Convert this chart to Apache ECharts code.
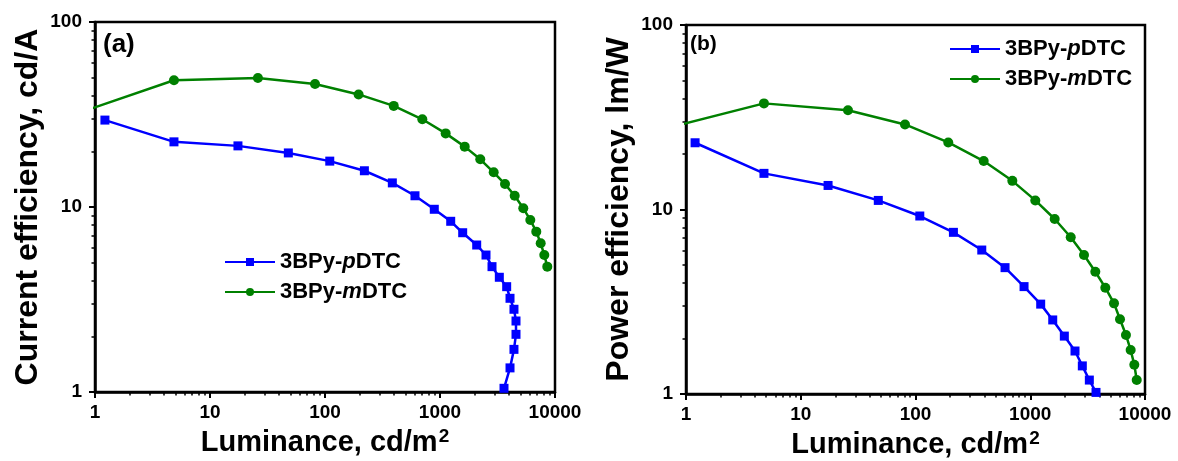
<!DOCTYPE html>
<html>
<head>
<meta charset="utf-8">
<script src="https://cdn.jsdelivr.net/npm/echarts@6/dist/echarts.min.js"></script>
<style>
  html, body { margin: 0; padding: 0; background: #fff; }
  #chart { width: 1178px; height: 461px; }
</style>
</head>
<body>
<div id="chart"></div>
<script>
// ---- data ----
const seriesNames = ['3BPy-pDTC', '3BPy-mDTC'];

// (a) current efficiency vs luminance
const ceLumP = [1.22, 4.86, 17.5, 48, 110, 220, 385, 606, 892, 1239, 1575, 2085, 2512, 2833, 3280, 3800, 4063, 4397, 4580, 4580, 4397, 4063, 3602];
const ceP    = [29.5, 22.5, 21.4, 19.6, 17.7, 15.7, 13.5, 11.5, 9.72, 8.37, 7.26, 6.23, 5.5, 4.76, 4.17, 3.71, 3.21, 2.80, 2.42, 2.05, 1.70, 1.35, 1.047];
const ceLumM = [0.8, 4.86, 26.1, 81.9, 196, 396, 702, 1120, 1640, 2240, 2930, 3675, 4463, 5300, 6100, 6875, 7510, 8070, 8570];
const ceM    = [33.0, 48.4, 49.8, 46.2, 40.6, 35.2, 29.8, 25.0, 21.2, 18.1, 15.4, 13.3, 11.5, 9.84, 8.51, 7.36, 6.37, 5.50, 4.76];

// (b) power efficiency vs luminance
const peLumP = [1.2, 4.78, 17.3, 47.4, 109, 214, 378, 603, 883, 1233, 1570, 1982, 2455, 2843, 3273, 3742];
const peP    = [23.0, 15.7, 13.5, 11.2, 9.22, 7.52, 6.03, 4.84, 3.82, 3.07, 2.52, 2.06, 1.71, 1.42, 1.19, 1.02];
const peLumM = [0.8, 4.78, 25.8, 81, 193, 393, 698, 1107, 1633, 2253, 2940, 3690, 4510, 5370, 6056, 6825, 7500, 8070, 8470];
const peM    = [28.3, 37.6, 34.5, 28.9, 23.1, 18.3, 14.3, 11.2, 8.88, 7.07, 5.67, 4.60, 3.77, 3.10, 2.54, 2.09, 1.73, 1.44, 1.19];

const xMajor = [1, 10, 100, 1000, 10000];
const yMajor = [1, 10, 100];
const xMinor = [2,3,4,5,6,7,8,9,20,30,40,50,60,70,80,90,200,300,400,500,600,700,800,900,2000,3000,4000,5000,6000,7000,8000,9000];
const yMinor = [2,3,4,5,6,7,8,9,20,30,40,50,60,70,80,90];

// ---- styling ----
const FONT = "Arial, 'Liberation Sans', sans-serif";
const INK = '#000';
const BLUE = '#0000ff';
const GREEN = '#008000';

const zip = (xs, ys) => xs.map((x, i) => [x, ys[i]]);

function majorAxis(gridIndex, min, max, ticks, margin, extra) {
  return Object.assign({
    type: 'log', logBase: 10, gridIndex, min, max,
    axisLine: { show: true, onZero: false, lineStyle: { color: INK, width: 2.5 } },
    axisTick: { show: true, inside: false, length: 6, customValues: ticks, lineStyle: { color: INK, width: 2 } },
    axisLabel: {
      customValues: ticks, color: INK, fontFamily: FONT, fontWeight: 'bold', fontSize: 19,
      margin, formatter: v => String(Math.round(v))
    },
    splitLine: { show: false },
    minorTick: { show: false },
    nameLocation: 'middle',
    nameTextStyle: { color: INK, fontFamily: FONT, fontWeight: 'bold', fontSize: 32 }
  }, extra);
}

function minorAxis(gridIndex, min, max, ticks, position) {
  return {
    type: 'log', logBase: 10, gridIndex, min, max, position,
    axisLine: { show: false },
    axisTick: { show: true, inside: false, length: 3.5, customValues: ticks, lineStyle: { color: INK, width: 1.5 } },
    axisLabel: { show: false },
    splitLine: { show: false }
  };
}

const xName = {
  name: '{n|Luminance, cd/m}{s|2}',
  nameGap: 31,
  nameTextStyle: {
    rich: {
      n: { color: INK, fontFamily: FONT, fontWeight: 'bold', fontSize: 29 },
      s: { color: INK, fontFamily: FONT, fontWeight: 'bold', fontSize: 19, padding: [0, 0, 14, 1] }
    }
  }
};

const legendText = {
  color: INK, fontFamily: FONT, fontWeight: 'bold', fontSize: 22,
  rich: { i: { color: INK, fontFamily: FONT, fontWeight: 'bold', fontStyle: 'italic', fontSize: 22 } }
};
const legendFormatter = name => name.replace(/-(p|m)DTC/, '-{i|$1}DTC');

function lineSeries(name, color, symbol, size, xAxisIndex, yAxisIndex, data) {
  return {
    name, type: 'line', xAxisIndex, yAxisIndex, data,
    clip: true, symbol, symbolSize: size, showSymbol: true,
    lineStyle: { color, width: 2.5 },
    itemStyle: { color },
    animation: false
  };
}

const gridBase = { show: true, borderColor: INK, borderWidth: 2.5, backgroundColor: 'transparent', containLabel: false, outerBoundsMode: 'none' };

const option = {
  backgroundColor: '#fff',
  animation: false,
  title: [
    { text: '(a)', left: 103, top: 32, padding: 0, textStyle: { color: INK, fontFamily: FONT, fontWeight: 'bold', fontSize: 26 } },
    { text: '(b)', left: 690, top: 34, padding: 0, textStyle: { color: INK, fontFamily: FONT, fontWeight: 'bold', fontSize: 21 } }
  ],
  grid: [
    Object.assign({ left: 95, top: 22, width: 460, height: 370 }, gridBase),
    Object.assign({ left: 686, top: 25, width: 459, height: 369 }, gridBase)
  ],
  legend: [
    {
      data: seriesNames, orient: 'vertical', left: 224, top: 251, padding: 0,
      itemWidth: 50, itemHeight: 10, itemGap: 8,
      textStyle: legendText, formatter: legendFormatter, selectedMode: false
    },
    {
      data: seriesNames, orient: 'vertical', left: 949, top: 38, padding: 0,
      itemWidth: 50, itemHeight: 10, itemGap: 8,
      textStyle: legendText, formatter: legendFormatter, selectedMode: false
    }
  ],
  xAxis: [
    majorAxis(0, 1, 10000, xMajor, 11, Object.assign({ position: 'bottom' }, xName)),
    minorAxis(0, 1, 10000, xMinor, 'bottom'),
    majorAxis(1, 1, 10000, xMajor, 11, Object.assign({ position: 'bottom' }, xName)),
    minorAxis(1, 1, 10000, xMinor, 'bottom')
  ],
  yAxis: [
    majorAxis(0, 1, 100, yMajor, 13, { position: 'left', name: 'Current efficiency, cd/A', nameGap: 51 }),
    minorAxis(0, 1, 100, yMinor, 'left'),
    majorAxis(1, 1, 100, yMajor, 13, { position: 'left', name: 'Power efficiency, lm/W', nameGap: 51 }),
    minorAxis(1, 1, 100, yMinor, 'left')
  ],
  series: [
    lineSeries(seriesNames[0], BLUE, 'rect', 9, 0, 0, zip(ceLumP, ceP)),
    lineSeries(seriesNames[1], GREEN, 'circle', 10, 0, 0, zip(ceLumM, ceM)),
    lineSeries(seriesNames[0], BLUE, 'rect', 9, 2, 2, zip(peLumP, peP)),
    lineSeries(seriesNames[1], GREEN, 'circle', 10, 2, 2, zip(peLumM, peM))
  ]
};

const chart = echarts.init(document.getElementById('chart'), null, { renderer: 'canvas' });
chart.setOption(option);
</script>
</body>
</html>
